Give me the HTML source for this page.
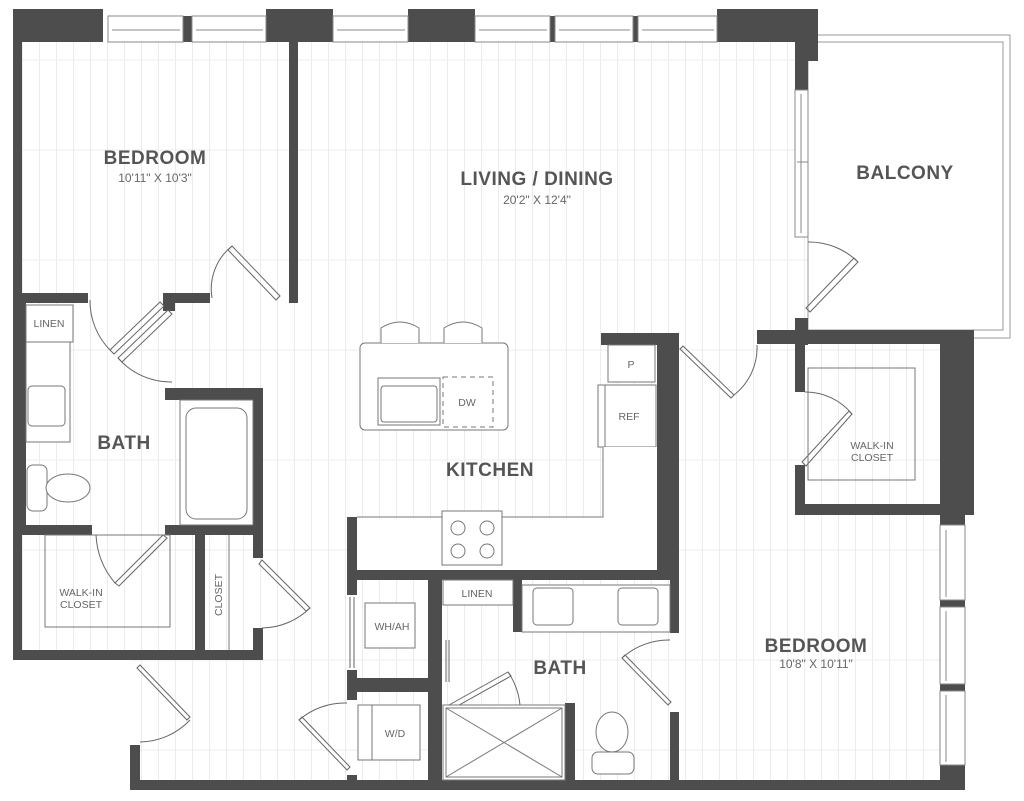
<!DOCTYPE html>
<html><head><meta charset="utf-8"><style>
html,body{margin:0;padding:0;background:#fff;}
svg{display:block;}
.t{font-family:"Liberation Sans",sans-serif;fill:#555;}
.b{font-weight:bold;font-size:19px;letter-spacing:0.5px;}
.s{font-size:12px;fill:#666;}
.l{font-size:10.5px;fill:#666;}
</style></head><body>
<svg width="1024" height="801" viewBox="0 0 1024 801" xmlns="http://www.w3.org/2000/svg">
<defs>
<pattern id="pl" x="5" y="0" width="17" height="200" patternUnits="userSpaceOnUse">
<line x1="0.5" y1="0" x2="0.5" y2="200" stroke="#ececec" stroke-width="1"/>
<line x1="0" y1="60" x2="17" y2="60" stroke="#ececec"/>
<line x1="0" y1="150" x2="17" y2="150" stroke="#ececec"/>
</pattern>
</defs>
<rect x="22" y="42" width="918" height="738" fill="url(#pl)"/>
<rect x="22" y="660" width="108" height="141" fill="#fff"/>
<!-- balcony -->
<rect x="808" y="35" width="202" height="303" fill="#fff" stroke="#999" stroke-width="1"/>
<rect x="808" y="42" width="195" height="288" fill="#fff" stroke="#999" stroke-width="1"/>
<g fill="#4d4d4d">
<rect x="13" y="9" width="90" height="33"/>
<rect x="266" y="9" width="67" height="33"/>
<rect x="408" y="9" width="67" height="33"/>
<rect x="717" y="9" width="101" height="33"/>
<rect x="795" y="42" width="23" height="19"/>
<rect x="795" y="42" width="13" height="48"/>
<rect x="550" y="16" width="5" height="26"/>
<rect x="633" y="16" width="5" height="26"/>
<rect x="183" y="16" width="9" height="26"/>
<rect x="13" y="9" width="9" height="651"/>
<rect x="289" y="42" width="9" height="261"/>
<rect x="22" y="293" width="66" height="10"/>
<rect x="163" y="293" width="47" height="10"/>
<rect x="163" y="303" width="12" height="8"/>
<rect x="22" y="303" width="4" height="222"/>
<rect x="165" y="388" width="98" height="12"/>
<rect x="253" y="388" width="10" height="170"/>
<rect x="22" y="525" width="70" height="10"/>
<rect x="165" y="525" width="98" height="10"/>
<rect x="195" y="535" width="10" height="115"/>
<rect x="13" y="650" width="250" height="10"/>
<rect x="253" y="628" width="10" height="32"/>
<rect x="130" y="745" width="10" height="45"/>
<rect x="130" y="780" width="835" height="10"/>
<rect x="347" y="517" width="10" height="63"/>
<rect x="347" y="570" width="332" height="10"/>
<rect x="657" y="333" width="22" height="247"/>
<rect x="601" y="333" width="78" height="12"/>
<rect x="670" y="570" width="9" height="63"/>
<rect x="670" y="712" width="9" height="78"/>
<rect x="347" y="580" width="10" height="15"/>
<rect x="347" y="670" width="10" height="30"/>
<rect x="347" y="678" width="81" height="14"/>
<rect x="347" y="775" width="10" height="10"/>
<rect x="428" y="580" width="14" height="210"/>
<rect x="513" y="580" width="9" height="52"/>
<rect x="565" y="703" width="10" height="77"/>
<rect x="757" y="330" width="208" height="14"/>
<rect x="795" y="318" width="13" height="27"/>
<rect x="795" y="330" width="10" height="62"/>
<rect x="940" y="330" width="34" height="182"/>
<rect x="795" y="504" width="179" height="11"/>
<rect x="795" y="465" width="10" height="50"/>
<rect x="940" y="512" width="25" height="13"/>
<rect x="940" y="600" width="25" height="7"/>
<rect x="940" y="684" width="25" height="7"/>
<rect x="940" y="765" width="25" height="25"/>
</g>
<g fill="#fff" stroke="#888" stroke-width="1">
<rect x="108" y="16" width="75" height="26"/><rect x="192" y="16" width="74" height="26"/>
<rect x="333" y="16" width="75" height="26"/>
<rect x="475" y="16" width="75" height="26"/><rect x="555" y="16" width="78" height="26"/><rect x="638" y="16" width="79" height="26"/>
<rect x="795" y="90" width="13" height="147"/>
<rect x="940" y="525" width="25" height="75"/><rect x="940" y="607" width="25" height="77"/><rect x="940" y="691" width="25" height="74"/>
</g>
<g stroke="#888" stroke-width="1" fill="none">
<line x1="112" y1="30" x2="180" y2="30"/><line x1="196" y1="30" x2="263" y2="30"/>
<line x1="337" y1="30" x2="405" y2="30"/><line x1="479" y1="30" x2="547" y2="30"/>
<line x1="559" y1="30" x2="630" y2="30"/><line x1="642" y1="30" x2="714" y2="30"/>
<line x1="801" y1="94" x2="801" y2="233"/><line x1="797" y1="162" x2="808" y2="162"/>
<line x1="946" y1="530" x2="946" y2="597"/><line x1="946" y1="611" x2="946" y2="681"/><line x1="946" y1="695" x2="946" y2="762"/>
</g>
<g stroke="#666" stroke-width="1" fill="none">
<path d="M280 296 L232 246 L228 250 L276 300 Z"/><path d="M232 246 A55 55 0 0 0 212 298"/>
<path d="M90 300 A70 70 0 0 0 110 350"/><path d="M110 350 L160 302 L164 306 L114 354 Z"/>
<path d="M118 358 L168 310 L172 314 L122 362 Z"/><path d="M118 358 A70 70 0 0 0 172 382"/>
<path d="M808 242 A70 70 0 0 1 858 262"/><path d="M858 262 L810 312 L806 308 L854 258 Z"/>
<path d="M683 346 L734 395 L731 398 L680 349 Z"/><path d="M734 395 A60 60 0 0 0 757 345"/>
<path d="M805 392 A60 60 0 0 1 852 414"/><path d="M852 414 L806 466 L802 462 L849 411 Z"/>
<path d="M96 535 A80 80 0 0 0 115 583"/><path d="M115 583 L163 535 L167 538 L119 586 Z"/>
<path d="M262 560 L310 608 L306 611 L259 564 Z"/><path d="M310 608 A70 70 0 0 1 262 628"/>
<path d="M140 665 L190 717 L187 720 L137 668 Z"/><path d="M190 720 A70 70 0 0 1 140 742"/>
<path d="M347 703 A70 70 0 0 0 299 720"/><path d="M299 720 L347 770 L350 767 L302 717 Z"/>
<path d="M350 597 L350 668 M354 597 L354 668"/>
<path d="M446 640 L446 682 M449 640 L449 682"/>
<path d="M449 705 L508 672 L511 676 L452 709 Z"/><path d="M508 672 A70 70 0 0 1 520 705"/>
<path d="M670 640 A70 70 0 0 0 622 658"/><path d="M622 658 L668 705 L671 702 L625 655 Z"/>
</g>
<g stroke="#777" stroke-width="1" fill="#fff">
<rect x="360" y="343" width="148" height="87" rx="5"/>
<rect x="378" y="378" width="62" height="47"/>
<rect x="381" y="386" width="56" height="36" rx="3"/>
<rect x="443" y="377" width="50" height="50" fill="none" stroke-dasharray="5,4"/>
<path d="M381 343 L381 328 Q400 316 419 328 L419 343"/>
<path d="M444 343 L444 328 Q463 316 482 328 L482 343"/>
<rect x="608" y="345" width="47" height="37"/>
<rect x="598" y="385" width="58" height="62"/><line x1="605" y1="385" x2="605" y2="447"/>
<path d="M603 447 L603 517 L357 517 L357 570 L657 570 L657 447 Z" stroke="none"/>
<polyline points="603,447 603,517 357,517" fill="none"/>
<rect x="442" y="511" width="60" height="54"/>
<circle cx="458" cy="528" r="7"/><circle cx="487" cy="528" r="7"/><circle cx="458" cy="551" r="7"/><circle cx="487" cy="551" r="7"/>
<rect x="26" y="305" width="47" height="37"/>
<rect x="26" y="342" width="44" height="100"/>
<rect x="28" y="386" width="37" height="40" rx="4"/>
<rect x="27" y="465" width="20" height="46" rx="6"/>
<ellipse cx="68" cy="488" rx="22" ry="14"/>
<rect x="180" y="400" width="73" height="125"/>
<rect x="186" y="408" width="61" height="111" rx="10"/>
<rect x="45" y="535" width="125" height="92" fill="none"/>
<line x1="229" y1="535" x2="229" y2="650"/>
<rect x="443" y="580" width="70" height="25"/>
<rect x="522" y="585" width="148" height="47"/>
<rect x="533" y="588" width="40" height="37" rx="4"/>
<rect x="618" y="588" width="40" height="37" rx="4"/>
<rect x="365" y="603" width="50" height="45"/>
<rect x="358" y="705" width="62" height="55"/><line x1="372" y1="705" x2="372" y2="760"/>
<rect x="443" y="705" width="122" height="75"/>
<rect x="446" y="708" width="116" height="69"/>
<path d="M446 708 L562 777 M562 708 L446 777" fill="none"/>
<ellipse cx="612" cy="732" rx="16" ry="20"/>
<rect x="592" y="752" width="42" height="22" rx="6"/>
<rect x="808" y="368" width="107" height="112" fill="none"/>
</g>
<text class="t b" x="155" y="164" text-anchor="middle">BEDROOM</text>
<text class="t s" x="155" y="182" text-anchor="middle">10'11" X 10'3"</text>
<text class="t b" x="537" y="185" text-anchor="middle">LIVING / DINING</text>
<text class="t s" x="537" y="204" text-anchor="middle">20'2" X 12'4"</text>
<text class="t b" x="905" y="179" text-anchor="middle">BALCONY</text>
<text class="t b" x="124" y="449" text-anchor="middle">BATH</text>
<text class="t b" x="490" y="476" text-anchor="middle">KITCHEN</text>
<text class="t b" x="560" y="674" text-anchor="middle">BATH</text>
<text class="t b" x="816" y="652" text-anchor="middle">BEDROOM</text>
<text class="t s" x="816" y="668" text-anchor="middle">10'8" X 10'11"</text>
<text class="t l" x="49" y="327" text-anchor="middle">LINEN</text>
<text class="t l" x="631" y="368" text-anchor="middle">P</text>
<text class="t l" x="629" y="420" text-anchor="middle">REF</text>
<text class="t l" x="467" y="406" text-anchor="middle">DW</text>
<text class="t l" x="81" y="596" text-anchor="middle">WALK-IN</text>
<text class="t l" x="81" y="608" text-anchor="middle">CLOSET</text>
<text class="t l" x="222" y="595" text-anchor="middle" transform="rotate(-90 222 595)">CLOSET</text>
<text class="t l" x="392" y="630" text-anchor="middle">WH/AH</text>
<text class="t l" x="395" y="737" text-anchor="middle">W/D</text>
<text class="t l" x="477" y="597" text-anchor="middle">LINEN</text>
<text class="t l" x="872" y="449" text-anchor="middle">WALK-IN</text>
<text class="t l" x="872" y="461" text-anchor="middle">CLOSET</text>
</svg>
</body></html>
